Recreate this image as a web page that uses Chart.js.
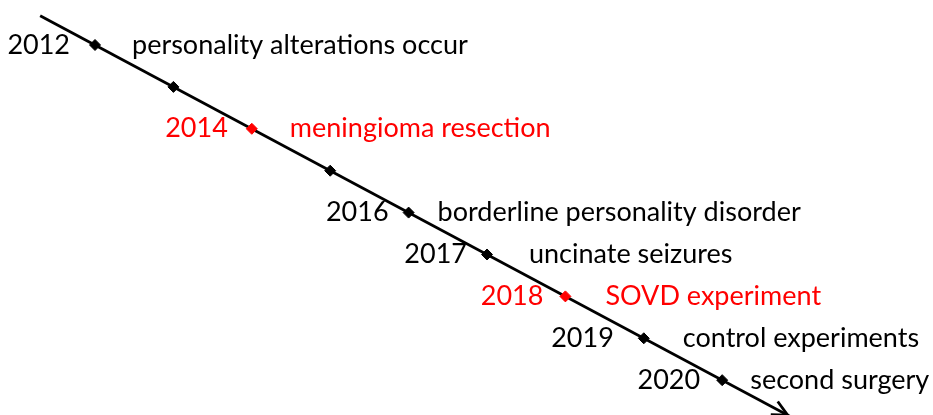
<!DOCTYPE html>
<html>
<head>
<meta charset="utf-8">
<script src="https://cdn.jsdelivr.net/npm/chart.js@4"></script>
<style>
  html, body { margin: 0; padding: 0; background: #fff; }
  #wrap { width: 933px; height: 415px; }
</style>
</head>
<body>
<div id="wrap"><canvas id="chart"></canvas></div>
<script>
// timeline data
const years = [2012, 2013, 2014, 2015, 2016, 2017, 2018, 2019, 2020];
const events = ["personality alterations occur", "", "meningioma resection", "", "borderline personality disorder", "uncinate seizures", "SOVD experiment", "control experiments", "second surgery"];
const highlighted = [false, false, true, false, false, false, true, false, false];
const axisStart = 2011.3;
const axisEnd = 2020.87;

// gaps between marker and labels (px)
const yearGap = [25, 0, 24, 0, 20, 20, 22, 30, 22];
const eventGap = [37, 0, 38, 0, 29, 42, 40, 39, 28];

const RED = "#ff0000";
const FONT = "27px Lato, sans-serif";

const labelPlugin = {
    id: "timelineLabels",
    afterDatasetsDraw(chart) {
        const ctx = chart.ctx;
        const xs = chart.scales.x, ys = chart.scales.y;
        ctx.save();
        ctx.font = FONT;
        ctx.textBaseline = "middle";
        years.forEach((yr, i) => {
            if (!events[i]) return;
            const px = xs.getPixelForValue(yr);
            const py = ys.getPixelForValue(yr);
            ctx.fillStyle = highlighted[i] ? RED : "#000";
            ctx.textAlign = "right";
            ctx.fillText(String(yr), px - yearGap[i], py);
            ctx.textAlign = "left";
            ctx.fillText(events[i], px + eventGap[i], py);
        });
        // arrow head at the end of the axis line
        const x0 = xs.getPixelForValue(axisStart), y0 = ys.getPixelForValue(axisStart);
        const x1 = xs.getPixelForValue(axisEnd), y1 = ys.getPixelForValue(axisEnd);
        const ang = Math.atan2(y1 - y0, x1 - x0);
        const tx = x1 - 3 * Math.cos(ang), ty = y1 - 3 * Math.sin(ang);
        ctx.strokeStyle = "#000";
        ctx.lineWidth = 2.8;
        ctx.beginPath();
        ctx.moveTo(tx - 17 * Math.cos(ang - 0.45), ty - 17 * Math.sin(ang - 0.45));
        ctx.lineTo(tx, ty);
        ctx.lineTo(tx - 17 * Math.cos(ang + 0.45), ty - 17 * Math.sin(ang + 0.45));
        ctx.stroke();
        ctx.restore();
    }
};

new Chart(document.getElementById("chart"), {
    type: "scatter",
    data: {
        datasets: [
            {
                label: "axis",
                data: [axisStart, axisEnd].map(v => ({ x: v, y: v })),
                showLine: true,
                borderColor: "#000",
                borderWidth: 2.8,
                pointRadius: 0,
                order: 2
            },
            {
                label: "events",
                data: years.map(v => ({ x: v, y: v })),
                pointStyle: "rectRot",
                pointRadius: 5.5,
                backgroundColor: highlighted.map(h => h ? RED : "#000"),
                borderColor: highlighted.map(h => h ? RED : "#000"),
                borderWidth: 1,
                order: 1
            }
        ]
    },
    options: {
        responsive: true,
        maintainAspectRatio: false,
        animation: false,
        layout: { padding: 0, autoPadding: false },
        plugins: { legend: { display: false }, tooltip: { enabled: false } },
        scales: {
            x: { type: "linear", display: false, min: 2010.788, max: 2022.689 },
            y: { type: "linear", display: false, reverse: true, min: 2010.926, max: 2020.831 }
        }
    },
    plugins: [labelPlugin]
});
</script>
</body>
</html>
